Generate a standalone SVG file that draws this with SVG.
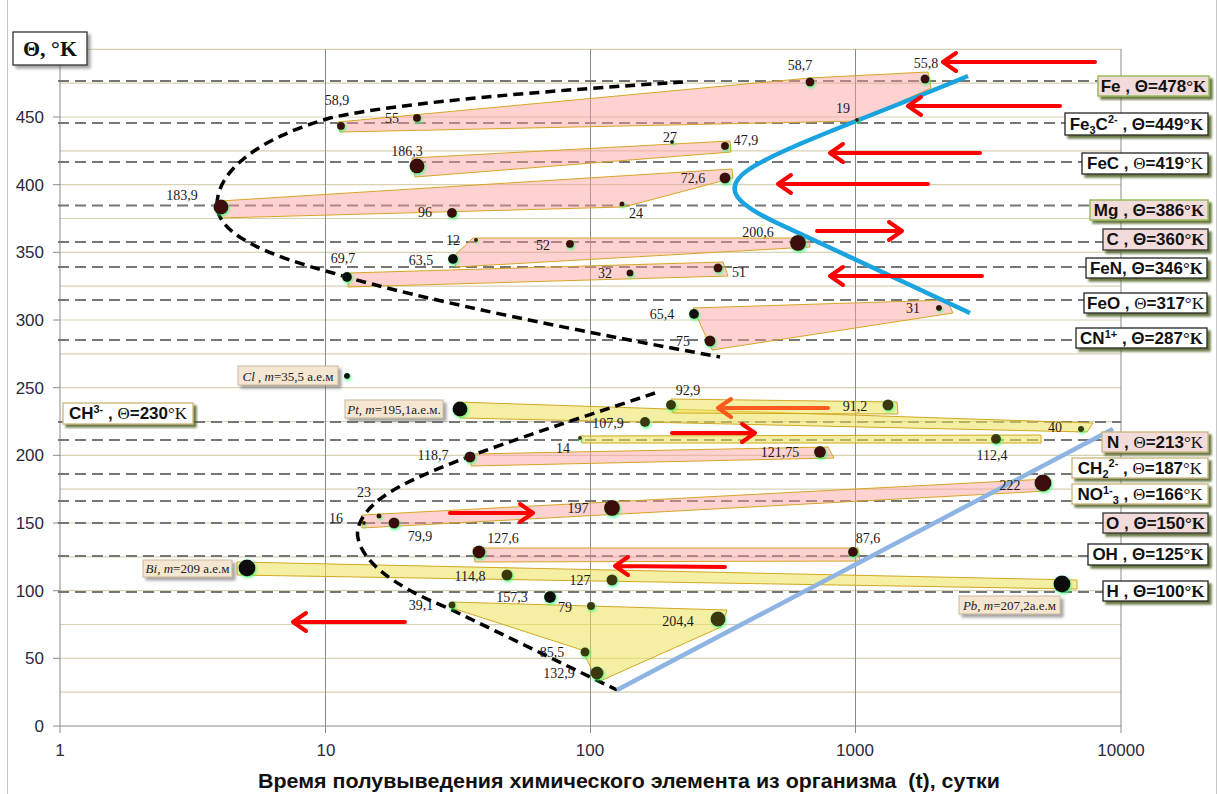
<svg xmlns="http://www.w3.org/2000/svg" width="1218" height="794" viewBox="0 0 1218 794">
<defs>
<style>
.grid{stroke:#d8d2b4;stroke-width:1.2}
.vg{stroke:#8a8a8a;stroke-width:1}
.dl{stroke:#767676;stroke-width:2.2;stroke-dasharray:11,6;fill:none}
.pk{fill:#ff9c9c;fill-opacity:0.45;stroke:#d8a521;stroke-width:1}
.yl{fill:#ece25a;fill-opacity:0.55;stroke:#d1a81f;stroke-width:1}
.dr{fill:#3c0808}
.ol{fill:#3a3810}
.bk{fill:#111}
.num{font-family:"Liberation Serif",serif;font-size:14px;fill:#1a1a1a;text-anchor:middle}
.ax{font-family:"Liberation Sans",sans-serif;font-size:17px;fill:#2a2a3a}
.lb{font-family:"Liberation Sans",sans-serif;font-size:17px;font-weight:bold;fill:#111;text-anchor:middle}
.th{font-weight:normal;font-family:"Liberation Serif",serif}
.thb{font-weight:bold;font-family:"Liberation Serif",serif}
.el{font-family:"Liberation Serif",serif;font-size:13px;fill:#222;text-anchor:middle}
.ar{stroke:#ff0000;stroke-width:4;fill:none;stroke-linecap:round;stroke-linejoin:round}
.bcurve{stroke:#000;stroke-width:3.5;stroke-dasharray:10,6;fill:none}
</style>
<filter id="sh" x="-10%" y="-30%" width="130%" height="180%">
<feDropShadow dx="3" dy="3" stdDeviation="1.3" flood-color="#4f6228" flood-opacity="0.85"/>
</filter>
<filter id="shg" x="-10%" y="-30%" width="130%" height="180%">
<feDropShadow dx="3" dy="3" stdDeviation="1.5" flood-color="#666" flood-opacity="0.6"/>
</filter>
<filter id="glow" x="-60%" y="-60%" width="220%" height="220%">
<feDropShadow dx="1" dy="1.5" stdDeviation="1.5" flood-color="#2cff70" flood-opacity="0.8"/>
</filter>
</defs>
<rect width="1218" height="794" fill="#fff"/>
<line x1="7.5" y1="0" x2="7.5" y2="794" stroke="#c8c8c8"/>
<line x1="1216.5" y1="0" x2="1216.5" y2="794" stroke="#c8c8c8"/>

<g id="grid">
<line class="grid" x1="60" y1="49.3" x2="1121" y2="49.3"/>
<line class="grid" x1="60" y1="83.2" x2="1121" y2="83.2"/>
<line class="grid" x1="60" y1="117" x2="1121" y2="117"/>
<line class="grid" x1="60" y1="150.8" x2="1121" y2="150.8"/>
<line class="grid" x1="60" y1="184.7" x2="1121" y2="184.7"/>
<line class="grid" x1="60" y1="218.5" x2="1121" y2="218.5"/>
<line class="grid" x1="60" y1="252.3" x2="1121" y2="252.3"/>
<line class="grid" x1="60" y1="286.2" x2="1121" y2="286.2"/>
<line class="grid" x1="60" y1="320" x2="1121" y2="320"/>
<line class="grid" x1="60" y1="353.8" x2="1121" y2="353.8"/>
<line class="grid" x1="60" y1="387.7" x2="1121" y2="387.7"/>
<line class="grid" x1="60" y1="421.5" x2="1121" y2="421.5"/>
<line class="grid" x1="60" y1="455.3" x2="1121" y2="455.3"/>
<line class="grid" x1="60" y1="489.2" x2="1121" y2="489.2"/>
<line class="grid" x1="60" y1="523" x2="1121" y2="523"/>
<line class="grid" x1="60" y1="556.8" x2="1121" y2="556.8"/>
<line class="grid" x1="60" y1="590.7" x2="1121" y2="590.7"/>
<line class="grid" x1="60" y1="624.5" x2="1121" y2="624.5"/>
<line class="grid" x1="60" y1="658.3" x2="1121" y2="658.3"/>
<line class="grid" x1="60" y1="692.2" x2="1121" y2="692.2"/>
<line class="vg" x1="60" y1="49" x2="60" y2="733"/>
<line class="vg" x1="325.5" y1="49" x2="325.5" y2="733"/>
<line class="vg" x1="590.5" y1="49" x2="590.5" y2="733"/>
<line class="vg" x1="855.5" y1="49" x2="855.5" y2="733"/>
<line class="vg" x1="1121" y1="49" x2="1121" y2="733"/>
<line class="vg" x1="53" y1="726" x2="1121" y2="726"/>
<line class="vg" x1="53" y1="658.3" x2="60" y2="658.3"/>
<line class="vg" x1="53" y1="590.7" x2="60" y2="590.7"/>
<line class="vg" x1="53" y1="523" x2="60" y2="523"/>
<line class="vg" x1="53" y1="455.3" x2="60" y2="455.3"/>
<line class="vg" x1="53" y1="387.7" x2="60" y2="387.7"/>
<line class="vg" x1="53" y1="320" x2="60" y2="320"/>
<line class="vg" x1="53" y1="252.3" x2="60" y2="252.3"/>
<line class="vg" x1="53" y1="184.7" x2="60" y2="184.7"/>
<line class="vg" x1="53" y1="117" x2="60" y2="117"/>
</g>

<g id="axis-labels" class="ax">
<text x="44" y="732" text-anchor="end">0</text>
<text x="44" y="664" text-anchor="end">50</text>
<text x="44" y="597" text-anchor="end">100</text>
<text x="44" y="529" text-anchor="end">150</text>
<text x="44" y="461" text-anchor="end">200</text>
<text x="44" y="394" text-anchor="end">250</text>
<text x="44" y="326" text-anchor="end">300</text>
<text x="44" y="258" text-anchor="end">350</text>
<text x="44" y="191" text-anchor="end">400</text>
<text x="44" y="123" text-anchor="end">450</text>
<text x="60" y="756" text-anchor="middle">1</text>
<text x="326" y="756" text-anchor="middle">10</text>
<text x="590" y="756" text-anchor="middle">100</text>
<text x="855" y="756" text-anchor="middle">1000</text>
<text x="1121" y="756" text-anchor="middle">10000</text>
<text x="629" y="788" text-anchor="middle" font-weight="bold" font-size="20" fill="#111" textLength="742" lengthAdjust="spacingAndGlyphs">Время полувыведения химического элемента из организма&#160; (t), сутки</text>
</g>

<g id="theta-lines">
<line class="dl" x1="58" y1="81" x2="1110" y2="81"/>
<line class="dl" x1="58" y1="123" x2="1110" y2="123"/>
<line class="dl" x1="58" y1="162" x2="1110" y2="162"/>
<line class="dl" x1="58" y1="205.5" x2="1110" y2="205.5"/>
<line class="dl" x1="58" y1="242" x2="1110" y2="242"/>
<line class="dl" x1="58" y1="267" x2="1110" y2="267"/>
<line class="dl" x1="58" y1="300" x2="1110" y2="300"/>
<line class="dl" x1="58" y1="340" x2="1110" y2="340"/>
<line class="dl" x1="58" y1="422" x2="1121" y2="422"/>
<line class="dl" x1="58" y1="440" x2="1110" y2="440"/>
<line class="dl" x1="58" y1="474" x2="1110" y2="474"/>
<line class="dl" x1="58" y1="501" x2="1110" y2="501"/>
<line class="dl" x1="58" y1="523" x2="1110" y2="523"/>
<line class="dl" x1="58" y1="556" x2="1110" y2="556"/>
<line class="dl" x1="58" y1="592" x2="1110" y2="592"/>
</g>

<g id="bands">
<polygon class="pk" points="338,122 810,78 928,72 931,88 858,121 340,132"/>
<polygon class="pk" points="412,158 730,141 731,152 415,177"/>
<polygon class="pk" points="220,201 732,169 733,178 624,207 220,218"/>
<polygon class="pk" points="453,257 473,238 809,238 810,247 456,267"/>
<polygon class="pk" points="348,273 723,262 728,276 348,287"/>
<polygon class="pk" points="693,308 947,300 953,313 712,350"/>
<polygon class="yl" points="457,402 1093,423 1087,432 460,418"/>
<polygon class="yl" points="671,399 897,402 898,414 673,413"/>
<polygon class="yl" points="580,436 1041,435 1041,443 582,443"/>
<polygon class="pk" points="471,454 828,447 834,458 471,466"/>
<polygon class="pk" points="362,515 1047,479 1047,491 362,528"/>
<polygon class="pk" points="473,548 858,548 860,561 475,562"/>
<polygon class="yl" points="237,562 1077,580 1077,589 237,575"/>
<polygon class="yl" points="452,602 727,610 721,627 598,682 582,650 452,608"/>
</g>

<g id="connectors">
<path class="bcurve" d="M683,82 C560,90 400,102 330,118 C260,138 217,170 217,205 C217,235 270,256 333,273 C420,300 600,335 720,357"/>
<path class="bcurve" d="M655,393 C560,425 440,462 390,492 C365,508 355,525 358,538 C362,560 390,585 448,608 L617,690"/>
<path d="M968,76 C880,113 780,148 748,170 C722,188 735,203 775,222 L970,313" fill="none" stroke="#1aa3df" stroke-width="4.5"/>
<path d="M617,690 L1113,429" fill="none" stroke="#8db4e2" stroke-width="4.5"/>
<path class="ar" d="M1095,62 L943,62 M956,53 L943,62 L956,71"/>
<path class="ar" d="M1060,106 L908,106 M921,97 L908,106 L921,115"/>
<path class="ar" d="M980,153 L830,153 M843,144 L830,153 L843,162"/>
<path class="ar" d="M928,184 L778,184 M791,175 L778,184 L791,193"/>
<path class="ar" d="M817,231 L902,231 M889,222 L902,231 L889,240"/>
<path class="ar" d="M982,276 L830,276 M843,267 L830,276 L843,285"/>
<path class="ar" d="M405,622 L293,622 M306,613 L293,622 L306,631"/>
<path class="ar" style="stroke:#ff5a1e" d="M828,408 L718,408 M731,399 L718,408 L731,417"/>
<path class="ar" d="M672,433 L755,433 M742,424 L755,433 L742,442"/>
<path class="ar" d="M450,513 L533,513 M520,504 L533,513 L520,522"/>
<path class="ar" d="M725,567 L615,566 M628,557 L615,566 L628,575"/>
</g>

<g id="points" filter="url(#glow)">
<circle class="dr" cx="341" cy="126" r="4"/>
<circle class="dr" cx="417" cy="118" r="4"/>
<circle class="dr" cx="810" cy="82" r="4.5"/>
<circle class="dr" cx="925" cy="79" r="4.5"/>
<circle class="dr" cx="857" cy="120" r="2"/>
<circle class="dr" cx="417" cy="166" r="7.5"/>
<circle class="dr" cx="672" cy="142" r="2"/>
<circle class="dr" cx="725" cy="146" r="4"/>
<circle class="dr" cx="221" cy="207" r="7.5"/>
<circle class="dr" cx="452" cy="213" r="5"/>
<circle class="dr" cx="622" cy="204" r="2.5"/>
<circle class="dr" cx="725" cy="178" r="5.5"/>
<circle class="dr" cx="476" cy="240" r="2"/>
<circle class="dr" cx="570" cy="244" r="4"/>
<circle class="dr" cx="798" cy="243" r="8"/>
<circle class="bk" cx="453" cy="259" r="5"/>
<circle class="bk" cx="347" cy="277" r="5"/>
<circle class="dr" cx="630" cy="273" r="3.5"/>
<circle class="dr" cx="718" cy="268" r="4.5"/>
<circle class="bk" cx="694" cy="314" r="5"/>
<circle class="dr" cx="710" cy="341" r="5.5"/>
<circle class="dr" cx="939" cy="308" r="3"/>
<circle class="bk" cx="347" cy="376" r="3"/>
<circle class="bk" cx="460" cy="409" r="7.5"/>
<circle class="ol" cx="671" cy="405" r="5"/>
<circle class="ol" cx="888" cy="405" r="5.5"/>
<circle class="ol" cx="645" cy="422" r="5"/>
<circle class="ol" cx="1081" cy="429" r="3"/>
<circle class="ol" cx="580" cy="438" r="2"/>
<circle class="ol" cx="996" cy="439" r="5"/>
<circle class="dr" cx="470" cy="457" r="5.5"/>
<circle class="dr" cx="820" cy="452" r="6"/>
<circle class="dr" cx="364" cy="523" r="2"/>
<circle class="dr" cx="379" cy="516" r="2.5"/>
<circle class="dr" cx="394" cy="523" r="5.5"/>
<circle class="dr" cx="612" cy="508" r="8"/>
<circle class="dr" cx="1043" cy="483" r="8.5"/>
<circle class="dr" cx="479" cy="552" r="6.5"/>
<circle class="dr" cx="853" cy="552" r="5"/>
<circle class="bk" cx="247" cy="568" r="8.5"/>
<circle class="ol" cx="507" cy="575" r="5.5"/>
<circle class="ol" cx="612" cy="580" r="5.5"/>
<circle class="bk" cx="1062" cy="584" r="8.5"/>
<circle class="ol" cx="452" cy="605" r="3.5"/>
<circle class="bk" cx="550" cy="597" r="6"/>
<circle class="ol" cx="591" cy="606" r="4"/>
<circle class="ol" cx="718" cy="619" r="7.5"/>
<circle class="ol" cx="585" cy="652" r="4.5"/>
<circle class="ol" cx="597" cy="673" r="6.5"/>
</g>

<g id="values" class="num">
<text x="337" y="105">58,9</text>
<text x="392" y="123">55</text>
<text x="800" y="70">58,7</text>
<text x="926" y="68">55,8</text>
<text x="843" y="113">19</text>
<text x="407" y="156">186,3</text>
<text x="670" y="142">27</text>
<text x="746" y="145">47,9</text>
<text x="182" y="200">183,9</text>
<text x="693" y="183">72,6</text>
<text x="425" y="217">96</text>
<text x="636" y="218">24</text>
<text x="453" y="245">12</text>
<text x="543" y="250">52</text>
<text x="758" y="237">200,6</text>
<text x="421" y="265">63,5</text>
<text x="343" y="263">69,7</text>
<text x="605" y="278">32</text>
<text x="739" y="277">51</text>
<text x="662" y="319">65,4</text>
<text x="683" y="346">75</text>
<text x="913" y="313">31</text>
<text x="688" y="395">92,9</text>
<text x="855" y="411">91,2</text>
<text x="608" y="428">107,9</text>
<text x="1055" y="432">40</text>
<text x="563" y="453">14</text>
<text x="992" y="460">112,4</text>
<text x="433" y="460">118,7</text>
<text x="780" y="457">121,75</text>
<text x="364" y="497">23</text>
<text x="336" y="523">16</text>
<text x="420" y="541">79,9</text>
<text x="578" y="513">197</text>
<text x="1010" y="490">222</text>
<text x="503" y="543">127,6</text>
<text x="868" y="543">87,6</text>
<text x="470" y="581">114,8</text>
<text x="580" y="585">127</text>
<text x="512" y="602">157,3</text>
<text x="421" y="610">39,1</text>
<text x="565" y="612">79</text>
<text x="678" y="626">204,4</text>
<text x="552" y="657">85,5</text>
<text x="559" y="678">132,9</text>
</g>

<g id="title-y">
<rect x="13" y="32" width="74" height="33" fill="#fff" stroke="#222" stroke-width="1.2" filter="url(#shg)"/>
<text x="50" y="56" text-anchor="middle" font-family="Liberation Serif, serif" font-weight="bold" font-size="22" fill="#111">Θ, °K</text>
</g>

<g id="el-Cl">
<rect x="238" y="366" width="100" height="19" fill="#f5e6d2" stroke="#c9b89a" filter="url(#shg)"/>
<text class="el" x="288" y="381"><tspan font-style="italic">Cl</tspan> , <tspan font-style="italic">m</tspan>=35,5 а.е.м</text>
</g>
<g id="el-Pt">
<rect x="345" y="400" width="98" height="18" fill="#f5e6d2" stroke="#c9b89a" filter="url(#shg)"/>
<text class="el" x="394" y="414"><tspan font-style="italic">Pt, m</tspan>=195,1а.е.м.</text>
</g>
<g id="el-Bi">
<rect x="143" y="560" width="89" height="17" fill="#f5e6d2" stroke="#c9b89a" filter="url(#shg)"/>
<text class="el" x="187.5" y="573"><tspan font-style="italic">Bi, m</tspan>=209 а.е.м</text>
</g>
<g id="el-Pb">
<rect x="959" y="596" width="101" height="18" fill="#f5e6d2" stroke="#c9b89a" filter="url(#shg)"/>
<text class="el" x="1009.5" y="610"><tspan font-style="italic">Pb, m</tspan>=207,2а.е.м</text>
</g>

<g id="lbl-Fe">
<rect x="1098" y="76" width="111" height="20" fill="#f2dcdb" stroke="#9bbb59" stroke-width="1.5" filter="url(#sh)"/>
<text class="lb" x="1153.5" y="92">Fe , Θ=478<tspan class="thb">°K</tspan></text>
</g>
<g id="lbl-Fe3C">
<rect x="1065" y="113" width="143" height="22" fill="#fff" stroke="#222" stroke-width="1.3" filter="url(#sh)"/>
<text class="lb" x="1136.5" y="130">Fe<tspan font-size="11" dy="4">3</tspan><tspan dy="-4">C</tspan><tspan font-size="11" dy="-7">2-</tspan><tspan dy="7"> , Θ=449</tspan><tspan class="thb">°K</tspan></text>
</g>
<g id="lbl-FeC">
<rect x="1082" y="153" width="126" height="21" fill="#fff" stroke="#222" stroke-width="1.3" filter="url(#sh)"/>
<text class="lb" x="1145" y="169">FeC , <tspan class="th">Θ</tspan>=419<tspan class="th">°K</tspan></text>
</g>
<g id="lbl-Mg">
<rect x="1090" y="200" width="118" height="20" fill="#f2dcdb" stroke="#9bbb59" stroke-width="1.5" filter="url(#sh)"/>
<text class="lb" x="1149" y="216">Mg , Θ=386<tspan class="thb">°K</tspan></text>
</g>
<g id="lbl-C">
<rect x="1103" y="229" width="105" height="21" fill="#f2dcdb" stroke="#333" stroke-width="1.3" filter="url(#sh)"/>
<text class="lb" x="1155.5" y="245">C , Θ=360<tspan class="thb">°K</tspan></text>
</g>
<g id="lbl-FeN">
<rect x="1086" y="258" width="121" height="20" fill="#fff" stroke="#222" stroke-width="1.3" filter="url(#sh)"/>
<text class="lb" x="1146.5" y="274">FeN, Θ=346<tspan class="thb">°K</tspan></text>
</g>
<g id="lbl-FeO">
<rect x="1084" y="293" width="123" height="20" fill="#fff" stroke="#222" stroke-width="1.3" filter="url(#sh)"/>
<text class="lb" x="1145.5" y="309">FeO , <tspan class="th">Θ</tspan>=317<tspan class="th">°K</tspan></text>
</g>
<g id="lbl-CN">
<rect x="1076" y="328" width="131" height="20" fill="#fff" stroke="#222" stroke-width="1.3" filter="url(#sh)"/>
<text class="lb" x="1141.5" y="344">CN<tspan font-size="11" dy="-6">1+</tspan><tspan dy="6"> , Θ=287</tspan><tspan class="thb">°K</tspan></text>
</g>
<g id="lbl-CH3">
<rect x="63" y="403" width="130" height="21" fill="#fff" stroke="#c8b67a" stroke-width="1.3" filter="url(#sh)"/>
<text class="lb" x="128" y="419">CH<tspan font-size="11" dy="-6">3-</tspan><tspan dy="6"> , </tspan><tspan class="th">Θ</tspan>=230<tspan class="th">°K</tspan></text>
</g>
<g id="lbl-N">
<rect x="1102" y="432" width="106" height="20" fill="#f2dcdb" stroke="#c8b67a" stroke-width="1.3" filter="url(#sh)"/>
<text class="lb" x="1155" y="448">N , <tspan class="th">Θ</tspan>=213<tspan class="th">°K</tspan></text>
</g>
<g id="lbl-CH2">
<rect x="1072" y="458" width="136" height="20" fill="#fff" stroke="#c8b67a" stroke-width="1.3" filter="url(#sh)"/>
<text class="lb" x="1140" y="474">CH<tspan font-size="11" dy="4">2</tspan><tspan font-size="11" dy="-11">2-</tspan><tspan dy="7"> , </tspan><tspan class="th">Θ</tspan>=187<tspan class="th">°K</tspan></text>
</g>
<g id="lbl-NO3">
<rect x="1072" y="484" width="136" height="20" fill="#fff" stroke="#c8b67a" stroke-width="1.3" filter="url(#sh)"/>
<text class="lb" x="1140" y="500">NO<tspan font-size="11" dy="-6">1-</tspan><tspan font-size="11" dy="10">3</tspan><tspan dy="-4"> , </tspan><tspan class="th">Θ</tspan>=166<tspan class="th">°K</tspan></text>
</g>
<g id="lbl-O">
<rect x="1103" y="513" width="105" height="20" fill="#f2dcdb" stroke="#333" stroke-width="1.3" filter="url(#sh)"/>
<text class="lb" x="1155.5" y="529">O , Θ=150<tspan class="thb">°K</tspan></text>
</g>
<g id="lbl-OH">
<rect x="1088" y="544" width="120" height="21" fill="#fff" stroke="#222" stroke-width="1.3" filter="url(#sh)"/>
<text class="lb" x="1148" y="560">OH , Θ=125<tspan class="thb">°K</tspan></text>
</g>
<g id="lbl-H">
<rect x="1103" y="581" width="105" height="20" fill="#fff" stroke="#222" stroke-width="1.3" filter="url(#sh)"/>
<text class="lb" x="1155.5" y="597">H , Θ=100<tspan class="thb">°K</tspan></text>
</g>
</svg>
